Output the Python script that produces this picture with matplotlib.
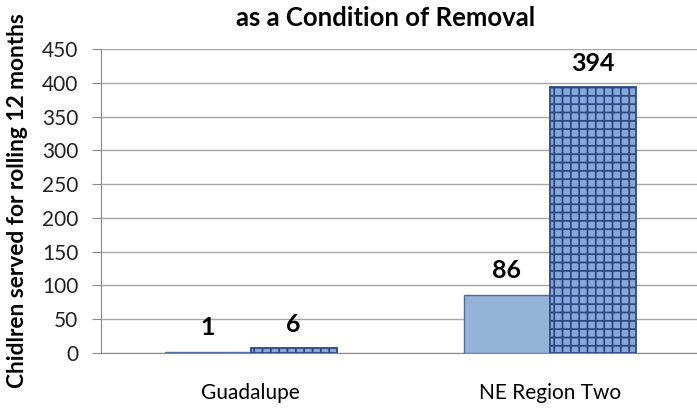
import numpy as np
import matplotlib
matplotlib.use('Agg')
import matplotlib.pyplot as plt

categories = ['Guadalupe', 'NE Region Two']
series_a = [1, 86]
series_b = [6, 394]
y_ticks = [0, 50, 100, 150, 200, 250, 300, 350, 400, 450]

plt.rcParams['font.family'] = ['Lato', 'DejaVu Sans']
plt.rcParams['hatch.linewidth'] = 1.3

fig = plt.figure(figsize=(6.97, 4.11), dpi=100)
ax = fig.add_axes([0.145, 0.1423, 0.858, 0.7373])

x = np.arange(len(categories))
w = 0.2876
bars_a = ax.bar(x - w / 2, series_a, w, color='#95B3D7', edgecolor='#4F6FA0', linewidth=1)
bars_b = ax.bar(x + w / 2, series_b, w, color='#86A6DC', edgecolor='#2D4A7E',
                linewidth=1.3, hatch='++')

for bars, vals in [(bars_a, series_a), (bars_b, series_b)]:
    for b, v in zip(bars, vals):
        ax.annotate(str(v), (b.get_x() + b.get_width() / 2, v), xytext=(0, 9),
                    textcoords='offset points', ha='center', va='bottom',
                    fontsize=18, fontweight='bold')

ax.set_xlim(-0.5, 1.5)
ax.set_ylim(0, 450)
ax.set_yticks(y_ticks)
ax.set_xticks(x)
ax.set_xticklabels(categories, fontsize=15)
ax.tick_params(axis='x', length=0, pad=22)
ax.tick_params(axis='y', length=6.5, direction='out', color='#888888', pad=10,
               labelsize=15, labelcolor='#222222')
ax.yaxis.grid(True, color='#A6A6A6', linewidth=1)
ax.set_axisbelow(True)
for s in ['top', 'right']:
    ax.spines[s].set_visible(False)
ax.spines['left'].set_color('#888888')
ax.spines['bottom'].set_color('#888888')

ax.set_ylabel('Chidlren served for rolling 12 months', fontsize=16.4, fontweight='bold')
ax.yaxis.set_label_coords(-0.123, 0.5)
fig.text(0.553, 0.957, 'as a Condition of Removal', ha='center', va='center',
         fontsize=18.5, fontweight='bold')

plt.savefig('out.png', dpi=100)
